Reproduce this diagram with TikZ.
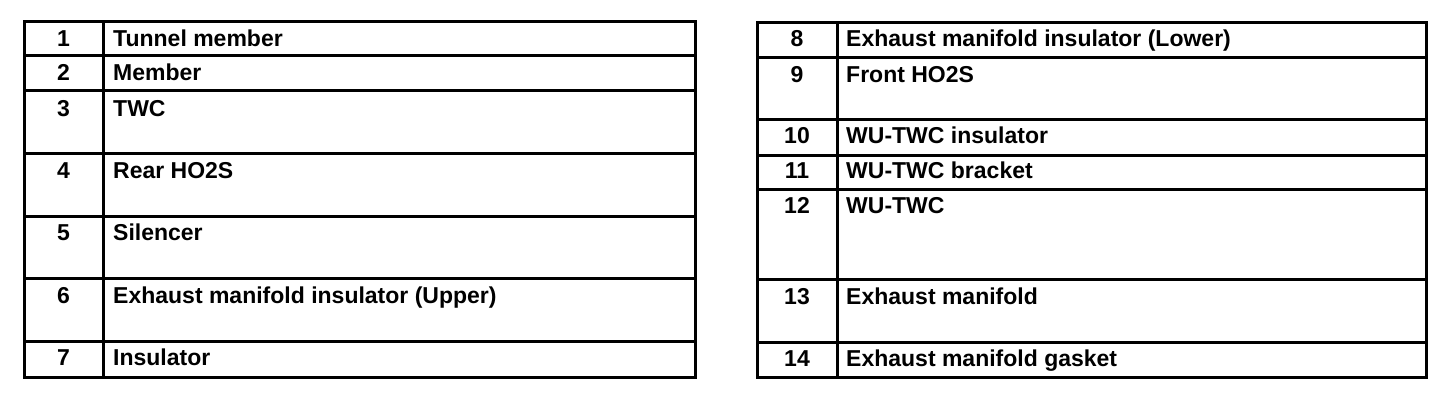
\documentclass[tikz,border=0pt]{standalone}
\usepackage{fontspec}
\setmainfont{Liberation Sans}
\begin{document}
\begin{tikzpicture}[x=1pt,y=-1pt,
  rule/.style={line width=3pt,line cap=rect},
  numtext/.style={anchor=base,inner sep=0pt,font=\fontsize{23}{27}\selectfont\bfseries},
  celltext/.style={anchor=base west,inner sep=0pt,font=\fontsize{23}{27}\selectfont\bfseries}]
\useasboundingbox (0,0) rectangle (1456,408);
% left table
\draw[rule] (24,21) rectangle (695,377);
\draw[rule] (103,21) -- (103,377);
\foreach \y in {55,90,153,216,278,341} \draw[rule] (24,\y) -- (695,\y);
% right table
\draw[rule] (757,22) rectangle (1426,377);
\draw[rule] (837,22) -- (837,377);
\foreach \y in {57,119,155,189,279,342} \draw[rule] (757,\y) -- (1426,\y);
% left texts
\node[numtext] (n1) at (63.5,46) {1};
\node[celltext] (t1) at (113,46) {Tunnel member};
\node[numtext] (n2) at (63.5,80) {2};
\node[celltext] (t2) at (113,80) {Member};
\node[numtext] (n3) at (63.5,116) {3};
\node[celltext] (t3) at (113,116) {TWC};
\node[numtext] (n4) at (63.5,178) {4};
\node[celltext] (t4) at (113,178) {Rear HO2S};
\node[numtext] (n5) at (63.5,240) {5};
\node[celltext] (t5) at (113,240) {Silencer};
\node[numtext] (n6) at (63.5,303) {6};
\node[celltext] (t6) at (113,303) {Exhaust manifold insulator (Upper)};
\node[numtext] (n7) at (63.5,365) {7};
\node[celltext] (t7) at (113,365) {Insulator};
% right texts
\node[numtext] (n8) at (797,46) {8};
\node[celltext] (t8) at (846,46) {Exhaust manifold insulator (Lower)};
\node[numtext] (n9) at (797,82) {9};
\node[celltext] (t9) at (846,82) {Front HO2S};
\node[numtext] (n10) at (797,143) {10};
\node[celltext] (t10) at (846,143) {WU-TWC insulator};
\node[numtext] (n11) at (797,178) {11};
\node[celltext] (t11) at (846,178) {WU-TWC bracket};
\node[numtext] (n12) at (797,213) {12};
\node[celltext] (t12) at (846,213) {WU-TWC};
\node[numtext] (n13) at (797,304) {13};
\node[celltext] (t13) at (846,304) {Exhaust manifold};
\node[numtext] (n14) at (797,366) {14};
\node[celltext] (t14) at (846,366) {Exhaust manifold gasket};
\end{tikzpicture}
\end{document}
